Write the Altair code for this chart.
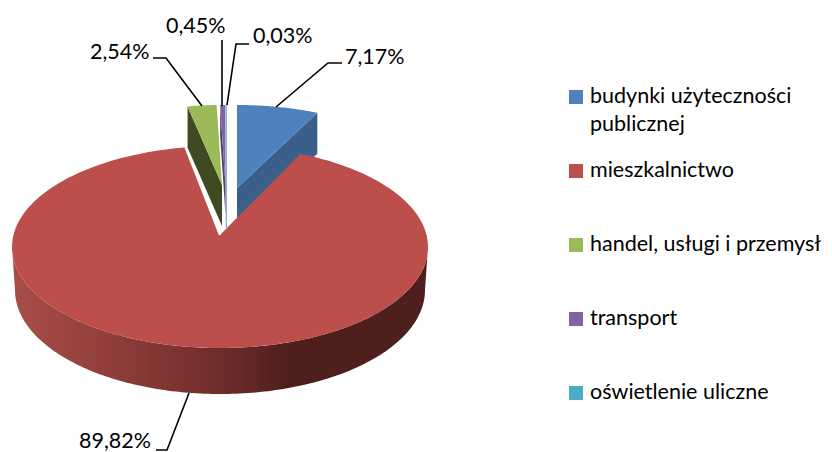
import math
import altair as alt
import pandas as pd

categories = ["budynki użyteczności publicznej", "mieszkalnictwo", "handel, usługi i przemysł", "transport", "oświetlenie uliczne"]
shares = [7.17, 89.82, 2.54, 0.45, 0.03]
share_labels = ["7,17%", "89,82%", "2,54%", "0,45%", "0,03%"]
top_colors = ["#4F81BD", "#BC4F4C", "#9BBB59", "#8064A2", "#4BACC6"]
side_colors = ["#3A5F8B", "#4F1F1D", "#3F4A22", "#54426E", "#7FA8C4"]

X = alt.X("x:Q", scale=alt.Scale(domain=[8, 824]), axis=None)
Y = alt.Y("y:Q", scale=alt.Scale(domain=[8, 452], reverse=True), axis=None)

RX, RY = 208, 101
FORESHORTEN = 0.88


def ell(cx, cy, deg, rx=RX, ry=RY):
    t = math.radians(deg)
    return (cx + rx * math.sin(t), cy - ry * math.cos(t))


def arc(cx, cy, a0, a1, n=120, rx=RX, ry=RY):
    return [ell(cx, cy, a0 + (a1 - a0) * k / n, rx, ry) for k in range(n + 1)]


def poly(points, fill, stroke=None, sw=0):
    df = pd.DataFrame([{"x": p[0], "y": p[1], "i": i} for i, p in enumerate(points + points[:1])])
    kw = {"fill": fill, "strokeWidth": sw, "stroke": stroke if stroke else "transparent"}
    return alt.Chart(df).mark_line(interpolate="linear", clip=False, **kw).encode(x=X, y=Y, order="i:Q")


def seg(points, color="#000000", w=1.6):
    df = pd.DataFrame([{"x": p[0], "y": p[1], "i": i} for i, p in enumerate(points)])
    return alt.Chart(df).mark_line(color=color, strokeWidth=w).encode(x=X, y=Y, order="i:Q")


# cumulative angles, clockwise from 12 o'clock
edges = [0]
for v in shares:
    edges.append(edges[-1] + v * 3.6)
ang = [(e if e < 180 else e - 360) * FORESHORTEN for e in edges]
ang[-1] = 0.0

layers = []

# exploded back slices: (ellipse centre x, ellipse centre y, vertex y, depth)
# blue
bc = (237, 206, 188, 41)
b_arc = arc(bc[0], bc[1], 0, ang[1], 40)
layers.append(poly([(bc[0], bc[2]), b_arc[-1], (b_arc[-1][0], b_arc[-1][1] + bc[3]), (bc[0], bc[2] + bc[3])], side_colors[0]))
layers.append(poly([(bc[0], bc[2])] + b_arc, top_colors[0]))

# teal
tc = (226.3, 206, 188, 40)
layers.append(seg([(tc[0], 105), (tc[0], 228)], side_colors[4], 1.2))

# purple
pc = (225.5, 206, 185, 30)
p_arc = arc(pc[0], pc[1], ang[3], ang[4], 6)
layers.append(poly([(pc[0], pc[2]), p_arc[0], (p_arc[0][0], p_arc[0][1] + pc[3]), (pc[0], pc[2] + pc[3])], side_colors[3]))
layers.append(poly([(pc[0], pc[2])] + p_arc, top_colors[3]))

# green
gc = (222, 206, 185, 41)
g_arc = arc(gc[0], gc[1], ang[2], ang[3], 12)
layers.append(poly([(gc[0], gc[2]), g_arc[0], (g_arc[0][0], g_arc[0][1] + gc[3]), (gc[0], gc[2] + gc[3])], side_colors[2]))
layers.append(poly([(gc[0], gc[2])] + g_arc, top_colors[2]))

# red rim (front half) with gradient
rim_top = arc(220, 247, 270, 90, 160)
rim_bot = arc(220, 290, 90, 270, 160, 205, 104)
rim_grad = alt.LinearGradient(
    gradient="linear", x1=0, x2=1, y1=0, y2=0,
    stops=[
        alt.GradientStop(offset=0, color="#A94D4A"),
        alt.GradientStop(offset=0.25, color="#8E3D3A"),
        alt.GradientStop(offset=0.5, color="#6F2D2B"),
        alt.GradientStop(offset=0.66, color="#4F1F1D"),
        alt.GradientStop(offset=1, color="#4F1F1D"),
    ],
)
layers.append(poly(rim_top + rim_bot, rim_grad))

# red top
vertex = (220, 235)
r_arc = arc(220, 247, ang[1], ang[2] + 360, 240)
layers.append(poly([vertex] + r_arc, top_colors[1]))
layers.append(seg([r_arc[-1], vertex], "#FFFFFF", 2.2))

# leader lines
leaders = [
    [(276, 107), (328, 63), (342, 63)],
    [(189, 393), (167, 450), (156, 450)],
    [(202, 106), (166, 58), (153, 58)],
    [(222, 106), (222, 40)],
    [(227, 105), (236, 44), (249, 44)],
]
for pts in leaders:
    layers.append(seg(pts))

FONT = "Lato"
label_pos = [(345, 58), (79, 442), (90, 53), (166, 27), (253, 37)]
lab = pd.DataFrame({"x": [p[0] for p in label_pos], "y": [p[1] for p in label_pos], "t": share_labels})
layers.append(alt.Chart(lab).mark_text(align="left", baseline="middle", font=FONT, fontSize=21.5, color="#000000").encode(x=X, y=Y, text="t:N"))

# legend
leg_y = [97 + 74 * i for i in range(5)]
leg = pd.DataFrame({"x": [576] * 5, "y": leg_y, "c": categories, "col": top_colors})
layers.append(alt.Chart(leg).mark_square(size=196, opacity=1).encode(x=X, y=Y, color=alt.Color("col:N", scale=None)))
leg_lines = [["budynki użyteczności", 97], ["publicznej", 125], [categories[1], 171], [categories[2], 245], [categories[3], 319], [categories[4], 393]]
txt = pd.DataFrame({"x": [590] * 6, "y": [r[1] for r in leg_lines], "t": [r[0] for r in leg_lines]})
layers.append(alt.Chart(txt).mark_text(align="left", baseline="middle", font=FONT, fontSize=21.5, color="#000000").encode(x=X, y=Y, text="t:N"))

chart = alt.layer(*layers).properties(width=816, height=444, padding=0, autosize=alt.AutoSizeParams(type="none")).configure_view(stroke=None)
chart.save("out.html", embed_options={"renderer": "svg", "actions": False})
